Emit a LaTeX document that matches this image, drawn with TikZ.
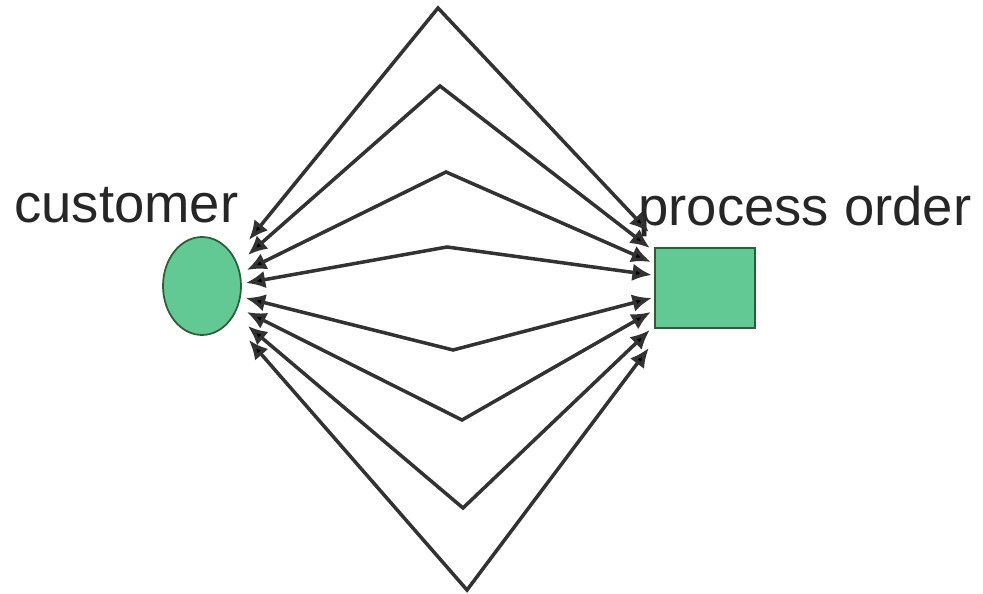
\documentclass[tikz,border=0pt]{standalone}
\usepackage{fontspec}
\setmainfont{Liberation Sans}
\usetikzlibrary{arrows.meta,calc,shapes.geometric}
\definecolor{nodegreen}{RGB}{98,201,148}
\definecolor{edgegreen}{RGB}{45,95,55}
\definecolor{linegray}{RGB}{50,50,50}
\tikzset{
  flow/.style={draw=linegray, line width=2pt, line join=miter, {Latex[length=11pt,width=10pt,fill=black]}-{Latex[length=11pt,width=10pt,fill=black]}},
  lbl/.style={font=\fontsize{31}{31}\selectfont, inner sep=0pt, anchor=base west, text=black!85}
}
\begin{document}
\begin{tikzpicture}[x=0.02cm,y=-0.02cm]
\useasboundingbox (0,0) rectangle (983,594);
\node[ellipse, draw=edgegreen, line width=1pt, fill=nodegreen, minimum width=1.56cm, minimum height=1.96cm, inner sep=0pt] (cust) at (202,286) {};
\node[rectangle, draw=edgegreen, line width=1.4pt, fill=nodegreen, minimum width=2.0cm, minimum height=1.6cm, inner sep=0pt] (po) at (705,288) {};
\node[lbl] (custlbl) at (14,223) {customer};
\node[lbl] (polbl) at (638,226) {process order};
% apex points
\coordinate (t1) at (438,8);
\coordinate (t2) at (440,86);
\coordinate (t3) at (446,172);
\coordinate (t4) at (447,247);
\coordinate (b1) at (453,350);
\coordinate (b2) at (462,420);
\coordinate (b3) at (463,508);
\coordinate (b4) at (467,590);
% ends at customer
\coordinate (c1) at ($(cust.east)+(7,-46)$);
\coordinate (c2) at ($(cust.east)+(6,-31)$);
\coordinate (c3) at ($(cust.east)+(5,-16)$);
\coordinate (c4) at ($(cust.east)+(4,-3)$);
\coordinate (c5) at ($(cust.east)+(4,12)$);
\coordinate (c6) at ($(cust.east)+(5,26)$);
\coordinate (c7) at ($(cust.east)+(6,40)$);
\coordinate (c8) at ($(cust.east)+(7,54)$);
% ends at process order
\coordinate (p1) at ($(po.west)+(-5,-56)$);
\coordinate (p2) at ($(po.west)+(-4,-40)$);
\coordinate (p3) at ($(po.west)+(-3,-26)$);
\coordinate (p4) at ($(po.west)+(-2,-13)$);
\coordinate (p5) at ($(po.west)+(-2,10)$);
\coordinate (p6) at ($(po.west)+(-3,24)$);
\coordinate (p7) at ($(po.west)+(-4,42)$);
\coordinate (p8) at ($(po.west)+(-5,60)$);
\draw[flow] (c1) -- (t1) -- (p1);
\draw[flow] (c2) -- (t2) -- (p2);
\draw[flow] (c3) -- (t3) -- (p3);
\draw[flow] (c4) -- (t4) -- (p4);
\draw[flow] (c5) -- (b1) -- (p5);
\draw[flow] (c6) -- (b2) -- (p6);
\draw[flow] (c7) -- (b3) -- (p7);
\draw[flow] (c8) -- (b4) -- (p8);
\end{tikzpicture}
\end{document}
